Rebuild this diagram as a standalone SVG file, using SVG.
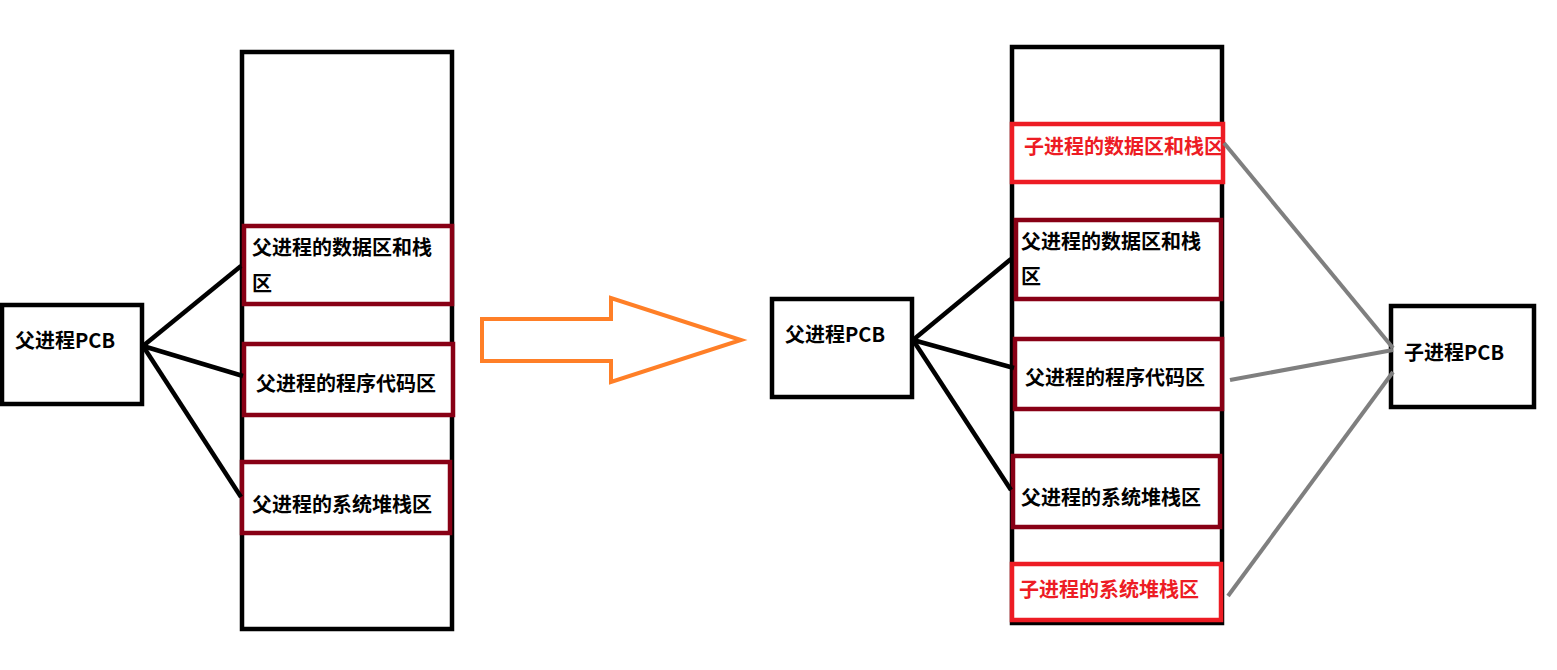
<svg xmlns="http://www.w3.org/2000/svg" width="1557" height="670" viewBox="0 0 1557 670">
<style>
text{font-family:"Noto Sans CJK SC","Noto Sans",sans-serif;font-weight:bold;font-size:20px;dominant-baseline:central;fill:#000}
.mem{fill:#fff;stroke:#000;stroke-width:4.5}
.pcb{fill:#fff;stroke:#000;stroke-width:4.5}
.par{fill:#fff;stroke:#880015;stroke-width:4.5}
.chd{fill:#fff;stroke:#ED1C24;stroke-width:4.5}
.red{fill:#ED1C24}
.blk{stroke:#000;stroke-width:4.5;fill:none}
.gry{stroke:#7F7F7F;stroke-width:4;fill:none}
</style>
<rect width="1557" height="670" fill="#fff"/>
<g id="left-memory">
<rect class="mem" x="242" y="52" width="210" height="577"/>
</g>
<g id="left-data">
<rect class="par" x="244" y="226" width="208" height="78"/>
<text x="252" y="246">父进程的数据区和栈</text>
<text x="252" y="282">区</text>
</g>
<g id="left-code">
<rect class="par" x="244" y="344" width="209" height="71"/>
<text x="256" y="382">父进程的程序代码区</text>
</g>
<g id="left-stack">
<rect class="par" x="242" y="462" width="208" height="71"/>
<text x="252" y="503">父进程的系统堆栈区</text>
</g>
<g id="left-pcb">
<rect class="pcb" x="2" y="305" width="140" height="99"/>
<text x="15" y="339">父进程PCB</text>
</g>
<g id="transform-arrow">
<polygon points="482,319 611,319 611,298 741,340 611,382 611,361 482,361" fill="#fff" stroke="#FF7F27" stroke-width="4" stroke-linejoin="miter"/>
</g>
<g id="right-memory">
<rect class="mem" x="1012" y="47" width="210" height="576"/>
</g>
<g id="child-data">
<rect class="chd" x="1012" y="124" width="211" height="58"/>
<text class="red" x="1024" y="145">子进程的数据区和栈区</text>
</g>
<g id="right-data">
<rect class="par" x="1016" y="220" width="205" height="79"/>
<text x="1021" y="240">父进程的数据区和栈</text>
<text x="1021" y="275">区</text>
</g>
<g id="right-code">
<rect class="par" x="1015" y="339" width="207" height="70"/>
<text x="1025" y="376">父进程的程序代码区</text>
</g>
<g id="right-stack">
<rect class="par" x="1013" y="456" width="207" height="71"/>
<text x="1021" y="496">父进程的系统堆栈区</text>
</g>
<g id="child-stack">
<rect class="chd" x="1012" y="564" width="209" height="56"/>
<text class="red" x="1019" y="588">子进程的系统堆栈区</text>
</g>
<g id="right-pcb">
<rect class="pcb" x="772" y="299" width="140" height="98"/>
<text x="785" y="333">父进程PCB</text>
</g>
<g id="child-pcb">
<rect class="pcb" x="1391" y="306" width="143" height="101"/>
<text x="1404" y="351">子进程PCB</text>
</g>
<g id="connectors">
<line class="blk" x1="143" y1="346" x2="241" y2="266"/>
<line class="blk" x1="143" y1="346" x2="243" y2="376"/>
<line class="blk" x1="143" y1="346" x2="241" y2="497"/>
<line class="blk" x1="913" y1="340" x2="1011" y2="259"/>
<line class="blk" x1="913" y1="340" x2="1014" y2="368"/>
<line class="blk" x1="913" y1="340" x2="1011" y2="490"/>
<line class="gry" x1="1224" y1="143" x2="1393" y2="348"/>
<line class="gry" x1="1230" y1="380" x2="1393" y2="350"/>
<line class="gry" x1="1228" y1="596" x2="1393" y2="372"/>
</g>
</svg>
